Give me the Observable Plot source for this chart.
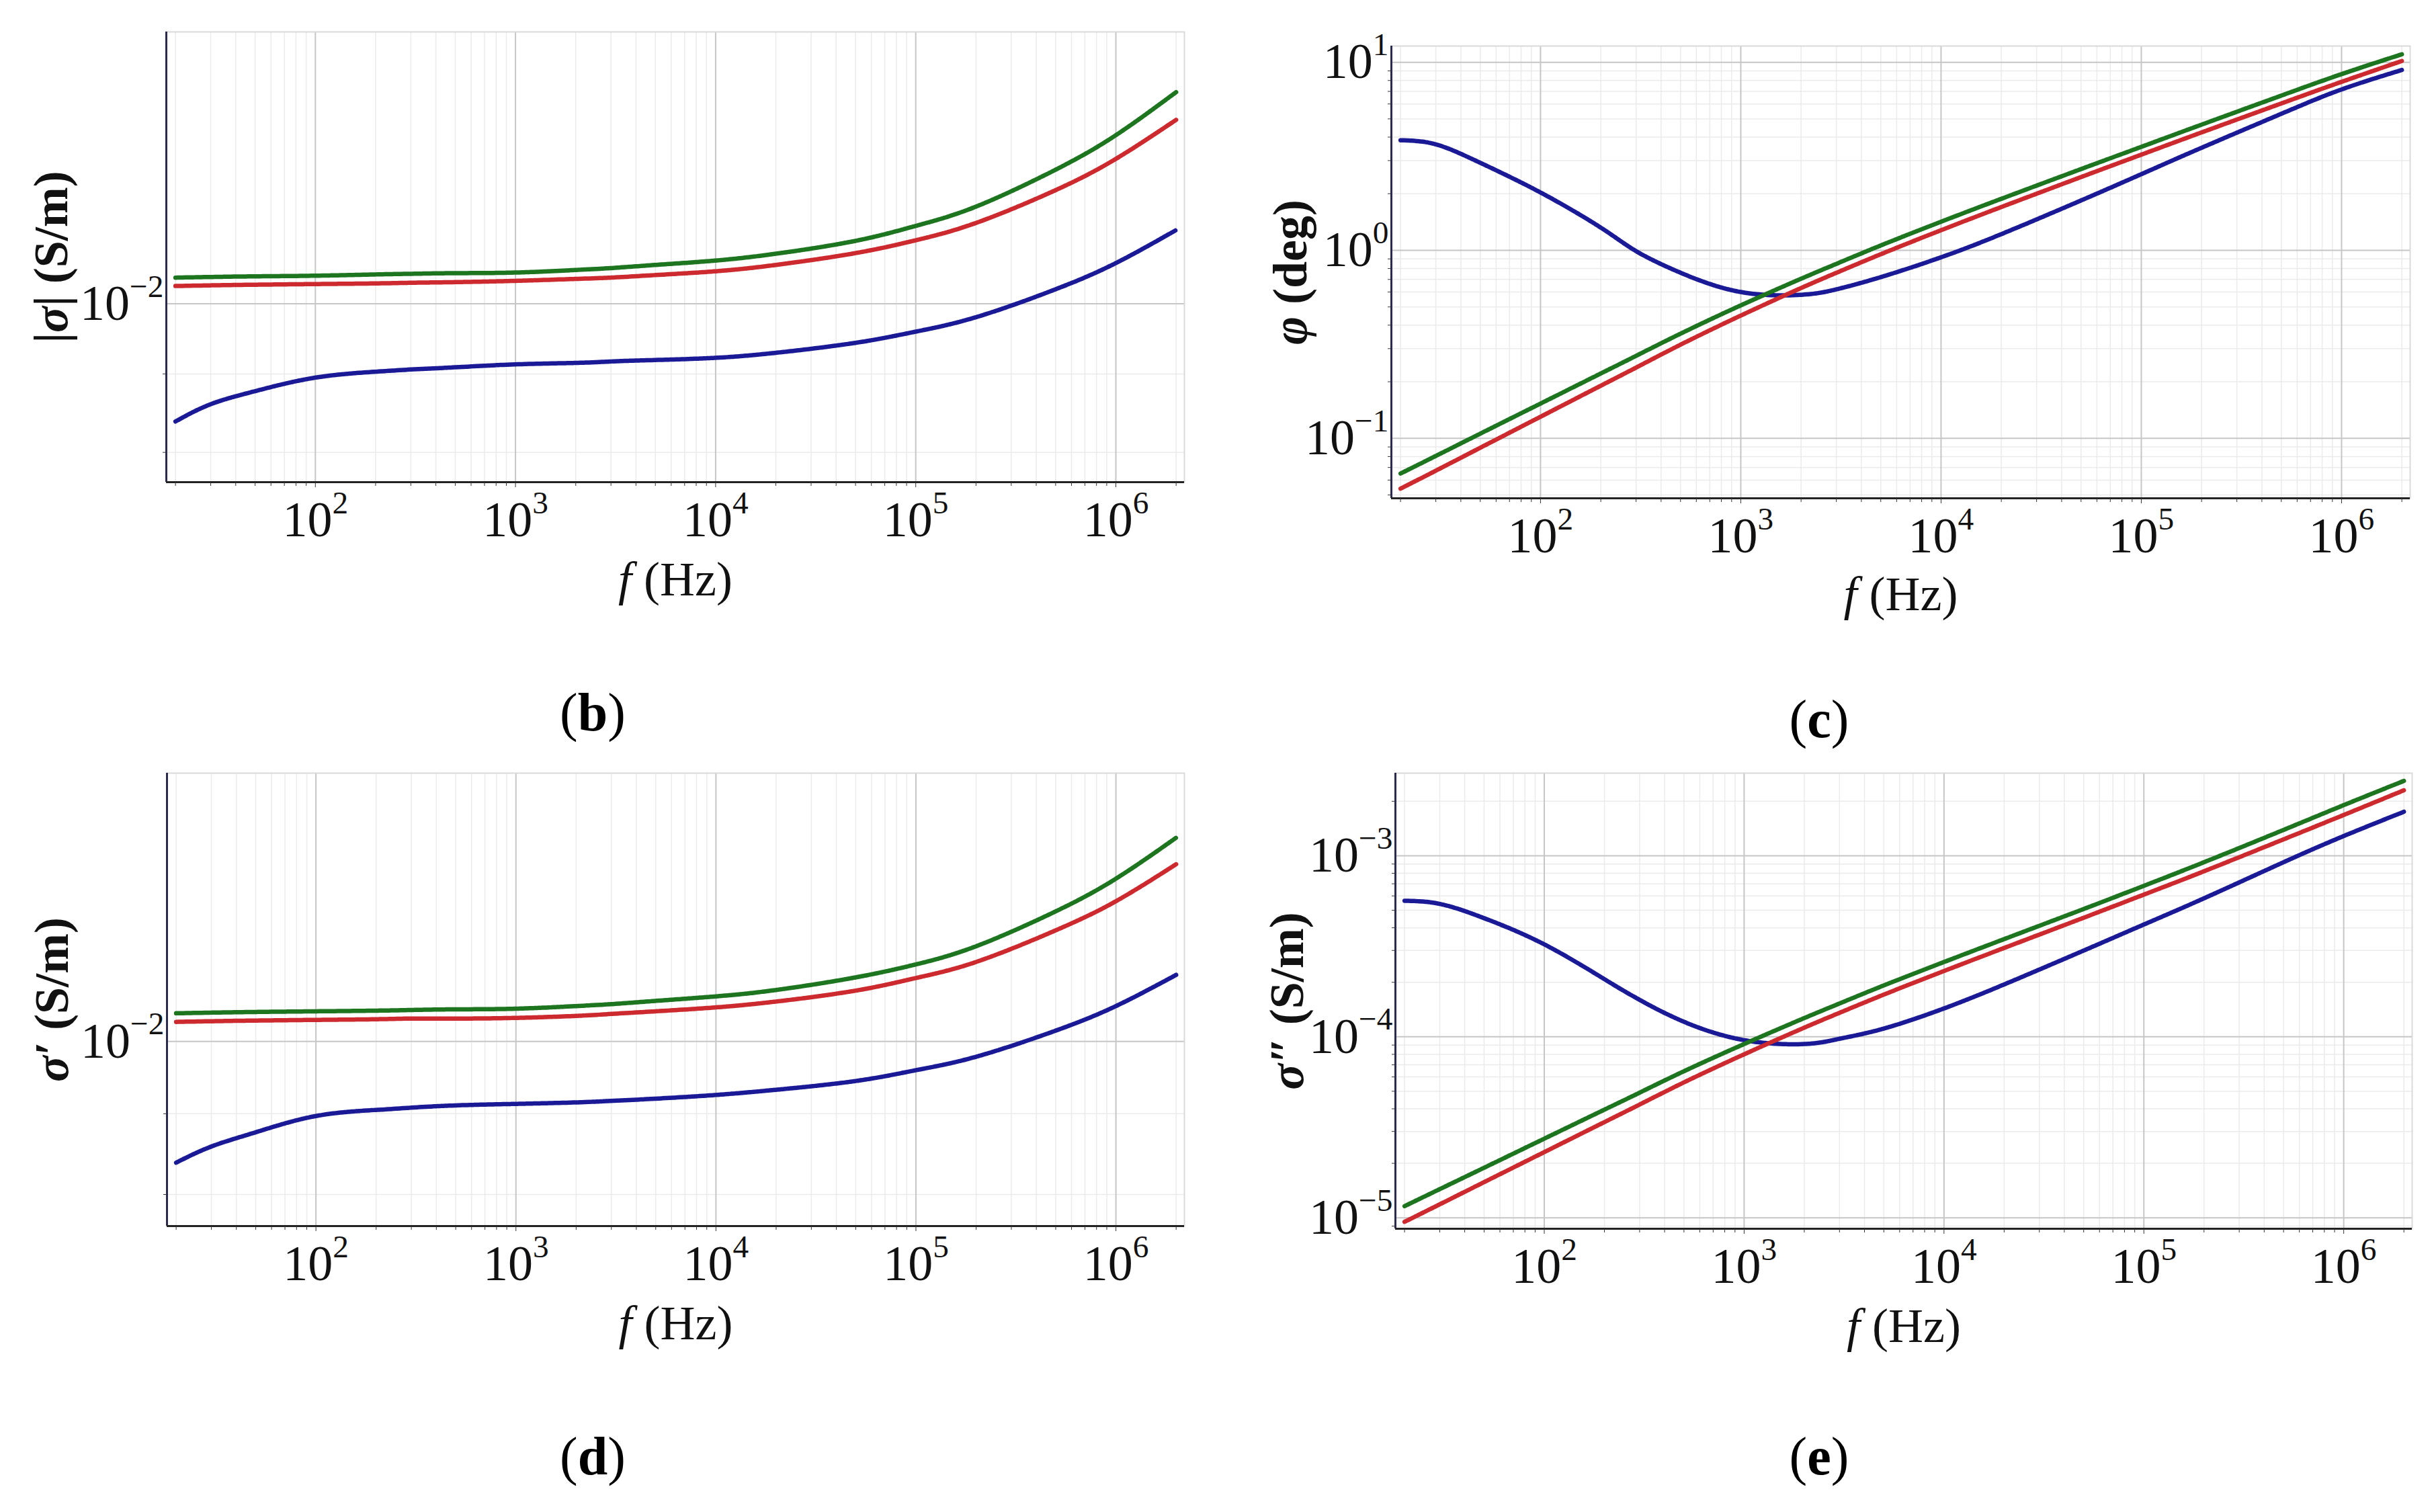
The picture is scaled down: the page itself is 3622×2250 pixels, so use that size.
<!DOCTYPE html>
<html>
<head>
<meta charset="utf-8">
<script src="https://cdn.jsdelivr.net/npm/d3@7"></script>
<script src="https://cdn.jsdelivr.net/npm/@observablehq/plot@0.6"></script>
<style>
  body { margin: 0; background: #fff; }
  #page { position: relative; width: 3622px; height: 2250px; background: #fff;
          font-family: "Liberation Serif", "Times New Roman", serif; }
  .panel { position: absolute; width: 1811px; height: 1000px; }
  .caption { position: absolute; font-size: 80px; transform: translate(-50%, -50%); white-space: nowrap; }
</style>
</head>
<body>
<div id="page"></div>
<script>
// frequency samples (Hz)
const freq = [20, 30, 50, 100, 200, 300, 500, 1e3, 2e3, 3e3, 5e3, 1e4, 2e4, 5e4, 1e5, 2e5, 5e5, 1e6, 2e6];
const seriesNames = ["sample A", "sample B", "sample C"];
const seriesColors = ["#1a1a96", "#cc2a2e", "#1d7520"];

// (b) |sigma| (S/m)
const absA = [0.00838, 0.00860, 0.00877, 0.00895, 0.00903, 0.00906, 0.00909, 0.00913, 0.00915, 0.00917, 0.00919, 0.00922, 0.00929, 0.00943, 0.00959, 0.00980, 0.01022, 0.01063, 0.01117];
const absB = [0.01027, 0.01028, 0.01029, 0.01030, 0.01031, 0.01032, 0.01033, 0.01035, 0.01038, 0.01040, 0.01044, 0.01050, 0.01060, 0.01079, 0.01100, 0.01129, 0.01186, 0.01243, 0.01318];
const absC = [0.01040, 0.01041, 0.01042, 0.01043, 0.01045, 0.01046, 0.01047, 0.01048, 0.01052, 0.01055, 0.01060, 0.01067, 0.01078, 0.01099, 0.01124, 0.01157, 0.01223, 0.01288, 0.01374];

// (c) phi (deg)
const phiA = [3.85, 3.66, 2.92, 2.03, 1.32, 0.99, 0.76, 0.60, 0.58, 0.62, 0.72, 0.918, 1.219, 1.841, 2.54, 3.51, 5.32, 7.17, 9.1];
const phiB = [0.054, 0.0673, 0.0891, 0.1303, 0.1905, 0.2378, 0.3148, 0.4497, 0.630, 0.759, 0.953, 1.279, 1.699, 2.452, 3.226, 4.236, 6.04, 7.87, 10.16];
const phiC = [0.065, 0.0806, 0.1059, 0.1531, 0.2213, 0.2746, 0.3602, 0.5095, 0.706, 0.847, 1.061, 1.419, 1.879, 2.704, 3.55, 4.66, 6.65, 8.65, 11.03];

// (d) sigma' (S/m)
const realA = [0.00838, 0.00858, 0.00876, 0.00897, 0.00905, 0.00908, 0.00911, 0.00913, 0.00915, 0.00917, 0.00920, 0.00925, 0.00932, 0.00944, 0.00959, 0.00978, 0.01016, 0.01053, 0.01102];
const realB = [0.01029, 0.01030, 0.01031, 0.01032, 0.01033, 0.01034, 0.01034, 0.01035, 0.01038, 0.01041, 0.01045, 0.01051, 0.01060, 0.01077, 0.01097, 0.01123, 0.01176, 0.01227, 0.01295];
const realC = [0.01042, 0.01043, 0.01044, 0.01045, 0.01046, 0.01047, 0.01048, 0.01049, 0.01053, 0.01056, 0.01061, 0.01068, 0.01078, 0.01098, 0.01119, 0.01149, 0.01209, 0.01268, 0.01346];

// (e) sigma'' (S/m)
const imagA = [5.64e-4, 5.42e-4, 4.52e-4, 3.24e-4, 2.08e-4, 1.60e-4, 1.21e-4, 9.58e-5, 9.12e-5, 9.75e-5, 1.11e-4, 1.434e-4, 1.946e-4, 2.994e-4, 4.17e-4, 5.82e-4, 9.21e-4, 1.285e-3, 1.75e-3];
const imagB = [9.5e-6, 1.187e-5, 1.574e-5, 2.306e-5, 3.378e-5, 4.223e-5, 5.598e-5, 8.0e-5, 1.123e-4, 1.356e-4, 1.71e-4, 2.308e-4, 3.095e-4, 4.545e-4, 6.10e-4, 8.21e-4, 1.232e-3, 1.68e-3, 2.30e-3];
const imagC = [1.16e-5, 1.44e-5, 1.89e-5, 2.736e-5, 3.958e-5, 4.912e-5, 6.452e-5, 9.12e-5, 1.269e-4, 1.527e-4, 1.922e-4, 2.588e-4, 3.464e-4, 5.08e-4, 6.82e-4, 9.21e-4, 1.389e-3, 1.904e-3, 2.591e-3];

const xDomain = [18, 2.2e6];
const xMajor = [1e2, 1e3, 1e4, 1e5, 1e6];

const svgns = "http://www.w3.org/2000/svg";
const serif = '"Liberation Serif", "Times New Roman", serif';

// all m*10^e (m = 2..9) inside a log domain
function minorTicks([lo, hi]) {
  const out = [];
  for (let e = Math.floor(Math.log10(lo)); e <= Math.ceil(Math.log10(hi)); e++) {
    for (let m = 2; m <= 9; m++) {
      const v = m * Math.pow(10, e);
      if (v >= lo && v <= hi) out.push(v);
    }
  }
  return out;
}

function rows(values) {
  return seriesNames.flatMap((s, i) => freq.map((f, j) => ({ f, v: values[i][j], s })));
}

const pow10 = (d) => "10^" + Math.round(Math.log10(d));

function setParts(text, parts) {
  text.textContent = "";
  for (const p of parts) {
    const ts = document.createElementNS(svgns, "tspan");
    ts.textContent = p.t;
    if (p.i) ts.setAttribute("font-style", "italic");
    if (p.sup) {
      ts.setAttribute("font-size", "64%");
      ts.setAttribute("dy", "-0.72em");
    }
    text.appendChild(ts);
  }
}

function fixText(svg, yParts, xParts) {
  svg.querySelectorAll('g[aria-label$="tick label"] text').forEach((t) => {
    const s = t.textContent;
    if (!s.includes("^")) return;
    const [base, exp] = s.split("^");
    setParts(t, [{ t: base }, { t: exp.replace("-", "\u2212"), sup: true }]);
  });
  svg.querySelectorAll('g[aria-label="y-axis label"] text').forEach((t) => {
    setParts(t, yParts);
    t.setAttribute("font-weight", "bold");
    t.setAttribute("font-size", "72");
  });
  svg.querySelectorAll('g[aria-label="x-axis label"] text').forEach((t) => {
    setParts(t, xParts);
    t.setAttribute("font-size", "72");
  });
}

function panel(p) {
  const data = rows(p.values);
  const plot = Plot.plot({
    width: 1811,
    height: 1000,
    marginTop: p.m[0],
    marginRight: p.m[1],
    marginBottom: p.m[2],
    marginLeft: p.m[3],
    style: { fontFamily: serif, fontSize: "74px", background: "transparent", overflow: "visible", color: "#111" },
    x: { type: "log", domain: xDomain },
    y: { type: "log", domain: p.yDomain },
    color: { domain: seriesNames, range: seriesColors },
    marks: [
      Plot.gridX({ ticks: minorTicks(xDomain), stroke: "#ebebeb", strokeOpacity: 1, strokeWidth: 1.5 }),
      Plot.gridY({ ticks: minorTicks(p.yDomain), stroke: "#ebebeb", strokeOpacity: 1, strokeWidth: 1.5 }),
      Plot.gridX({ ticks: xMajor, stroke: "#c6c6c6", strokeOpacity: 1, strokeWidth: 2 }),
      Plot.gridY({ ticks: p.yMajor, stroke: "#c6c6c6", strokeOpacity: 1, strokeWidth: 2 }),
      Plot.frame({ stroke: "#dadada", strokeWidth: 2 }),
      Plot.line(data, {
        x: "f", y: "v", z: "s", stroke: "s",
        strokeWidth: 6.5, strokeDasharray: "4 1.5", curve: "natural"
      }),
      Plot.ruleX([xDomain[0]], { stroke: "#2b2b50", strokeWidth: 3 }),
      Plot.ruleY([p.yDomain[0]], { stroke: "#222", strokeWidth: 3 }),
      Plot.axisX({ ticks: minorTicks(xDomain), tickSize: 6, tickFormat: () => "", label: null, stroke: "#333" }),
      Plot.axisY({ ticks: minorTicks(p.yDomain), tickSize: 5, tickFormat: () => "", label: null, stroke: "#333" }),
      Plot.axisX({
        ticks: xMajor, tickSize: 8, tickPadding: 20, tickFormat: pow10, stroke: "#333",
        label: "f (Hz)", labelAnchor: "center", labelArrow: "none", labelOffset: p.xOff
      }),
      Plot.axisY({
        ticks: p.yMajor, tickSize: 0, tickPadding: 4, tickFormat: pow10,
        label: "y", labelAnchor: "center", labelArrow: "none", labelOffset: p.yOff
      })
    ]
  });
  fixText(plot, p.yLabel, [{ t: "f", i: true }, { t: " (Hz)" }]);

  const page = document.getElementById("page");
  const div = document.createElement("div");
  div.className = "panel";
  div.style.left = p.pos[0] + "px";
  div.style.top = p.pos[1] + "px";
  div.appendChild(plot);
  page.appendChild(div);

  const cap = document.createElement("div");
  cap.className = "caption";
  cap.style.left = p.cap[0] + "px";
  cap.style.top = p.cap[1] + "px";
  cap.innerHTML = "(<b>" + p.letter + "</b>)";
  page.appendChild(cap);
}

panel({
  letter: "b", pos: [0, 0], cap: [882, 1060],
  values: [absA, absB, absC],
  yDomain: [0.00765, 0.01504], yMajor: [0.01],
  m: [47, 49, 283, 247], xOff: 168, yOff: 199,
  yLabel: [{ t: "|" }, { t: "\u03c3", i: true }, { t: "| (S/m)" }]
});
panel({
  letter: "c", pos: [1811, 0], cap: [2707, 1070],
  values: [phiA, phiB, phiC],
  yDomain: [0.048, 12.2], yMajor: [0.1, 1, 10],
  m: [68, 36, 259, 259], xOff: 166, yOff: 178,
  yLabel: [{ t: "\u03c6", i: true }, { t: " (deg)" }]
});
panel({
  letter: "d", pos: [0, 1125], cap: [882, 2167],
  values: [realA, realB, realC],
  yDomain: [0.00764, 0.01479], yMajor: [0.01],
  m: [25, 49, 301, 248], xOff: 168, yOff: 199,
  yLabel: [{ t: "\u03c3\u2032", i: true }, { t: " (S/m)" }]
});
panel({
  letter: "e", pos: [1811, 1125], cap: [2707, 2167],
  values: [imagA, imagB, imagC],
  yDomain: [8.7e-6, 2.86e-3], yMajor: [1e-5, 1e-4, 1e-3],
  m: [25, 33, 297, 265], xOff: 168, yOff: 189,
  yLabel: [{ t: "\u03c3\u2033", i: true }, { t: " (S/m)" }]
});
</script>
</body>
</html>
